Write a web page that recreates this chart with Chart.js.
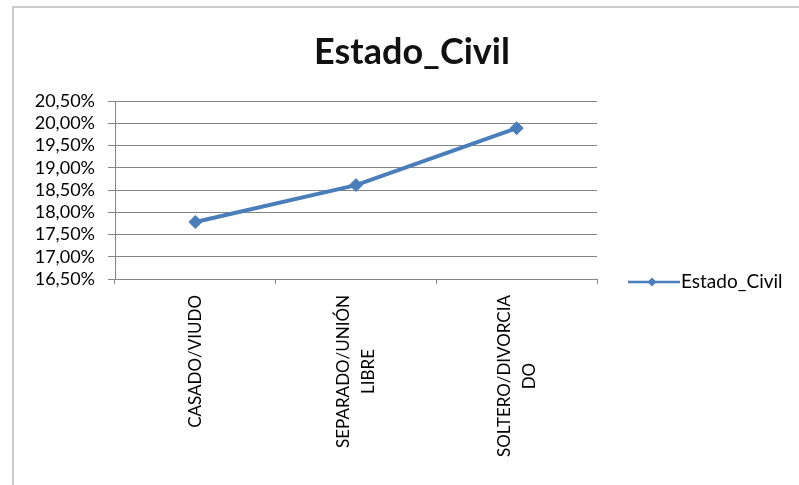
<!DOCTYPE html>
<html lang="es">
<head>
<meta charset="utf-8">
<title>Estado_Civil</title>
<script src="https://cdn.jsdelivr.net/npm/chart.js@4.4.1/dist/chart.umd.min.js"></script>
<style>
    html, body {
        margin: 0;
        padding: 0;
        background: #ffffff;
        overflow: hidden;
        width: 799px;
        height: 485px;
    }
    #frame {
        position: absolute;
        left: 12px;
        top: 6px;
        width: 796px;
        height: 550px;
        border-top: 2px solid #cbcbcb;
        border-left: 2px solid #cbcbcb;
    }
    #frame canvas {
        display: block;
    }
</style>
</head>
<body>
<div id="frame">
    <canvas id="estadoCivilChart" width="796" height="550"></canvas>
</div>
<script>
    // Series data
    const categories = [
        ['CASADO/VIUDO'],
        ['SEPARADO/UNIÓN', 'LIBRE'],
        ['SOLTERO/DIVORCIA', 'DO']
    ];
    const seriesName = 'Estado_Civil';
    const seriesValues = [17.78, 18.61, 19.89];

    // Y axis range (percent)
    const yMin = 16.5;
    const yMax = 20.5;
    const yStep = 0.5;

    const lineColor = '#4a7ebb';
    const gridColor = '#858585';
    const fontFamily = "Lato, 'DejaVu Sans', sans-serif";

    function formatPercent(v) {
        return v.toFixed(2).replace('.', ',') + '%';
    }

    // Rotated category labels, each block of lines centred on its category
    const categoryLabels = {
        id: 'categoryLabels',
        afterDraw(chart) {
            const ctx = chart.ctx;
            const xScale = chart.scales.x;
            const lineGap = 25;
            const top = chart.chartArea.bottom + 16;
            ctx.save();
            ctx.font = '17px ' + fontFamily;
            ctx.fillStyle = '#000000';
            ctx.textAlign = 'center';
            ctx.textBaseline = 'middle';
            chart.data.labels.forEach((lines, i) => {
                const x = xScale.getPixelForValue(i);
                const maxW = Math.max(...lines.map(t => ctx.measureText(t).width));
                lines.forEach((text, j) => {
                    const offset = (j - (lines.length - 1) / 2) * lineGap;
                    ctx.save();
                    ctx.translate(x + offset, top + maxW / 2);
                    ctx.rotate(-Math.PI / 2);
                    ctx.fillText(text, 0, 0);
                    ctx.restore();
                });
            });
            ctx.restore();
        }
    };

    // Legend entry on the right: line with a diamond marker
    const sideLegend = {
        id: 'sideLegend',
        afterDraw(chart) {
            const ctx = chart.ctx;
            const ds = chart.data.datasets[0];
            const x0 = chart.chartArea.right + 31;
            const x1 = x0 + 52;
            const y = chart.height / 2 - 1;
            ctx.save();
            ctx.strokeStyle = ds.borderColor;
            ctx.lineWidth = 2.5;
            ctx.beginPath();
            ctx.moveTo(x0, y);
            ctx.lineTo(x1, y);
            ctx.stroke();
            ctx.fillStyle = ds.backgroundColor;
            ctx.beginPath();
            const mx = (x0 + x1) / 2 - 2;
            const r = 4.5;
            ctx.moveTo(mx, y - r);
            ctx.lineTo(mx + r, y);
            ctx.lineTo(mx, y + r);
            ctx.lineTo(mx - r, y);
            ctx.closePath();
            ctx.fill();
            ctx.font = '19px ' + fontFamily;
            ctx.fillStyle = '#000000';
            ctx.textAlign = 'left';
            ctx.textBaseline = 'middle';
            ctx.fillText(ds.label, x1 + 1, y);
            ctx.restore();
        }
    };

    const ctx = document.getElementById('estadoCivilChart').getContext('2d');
    new Chart(ctx, {
        type: 'line',
        data: {
            labels: categories,
            datasets: [{
                label: seriesName,
                data: seriesValues,
                borderColor: lineColor,
                backgroundColor: lineColor,
                borderWidth: 4,
                pointStyle: 'rectRot',
                pointRadius: 6.5,
                pointBorderWidth: 1,
                pointBackgroundColor: lineColor,
                pointBorderColor: lineColor,
                tension: 0
            }]
        },
        options: {
            responsive: false,
            animation: false,
            devicePixelRatio: 1,
            plugins: {
                legend: { display: false },
                tooltip: { enabled: false },
                title: {
                    display: true,
                    text: 'Estado_Civil',
                    color: '#111111',
                    font: { family: fontFamily, size: 36, weight: 'bold', lineHeight: 1.2 },
                    padding: { top: 23, bottom: 26.8 }
                }
            },
            scales: {
                x: {
                    offset: true,
                    grid: {
                        display: true,
                        offset: true,
                        drawOnChartArea: false,
                        drawTicks: true,
                        tickLength: 5,
                        color: gridColor
                    },
                    border: { color: gridColor },
                    ticks: { display: false },
                    afterFit(scale) {
                        scale.height = 279;
                    }
                },
                y: {
                    min: yMin,
                    max: yMax,
                    grid: {
                        color: gridColor,
                        tickLength: 7
                    },
                    border: { color: gridColor },
                    ticks: {
                        stepSize: yStep,
                        autoSkip: false,
                        padding: 13,
                        color: '#000000',
                        font: { family: fontFamily, size: 18 },
                        callback: (v) => formatPercent(v)
                    },
                    afterFit(scale) {
                        scale.width = 101;
                    }
                },
                // empty right-hand box that keeps room for the legend entry
                legendSpace: {
                    type: 'linear',
                    position: 'right',
                    grid: { display: false },
                    border: { display: false },
                    ticks: { display: false },
                    afterFit(scale) {
                        scale.width = 213;
                    }
                }
            }
        },
        plugins: [categoryLabels, sideLegend]
    });
</script>
</body>
</html>
